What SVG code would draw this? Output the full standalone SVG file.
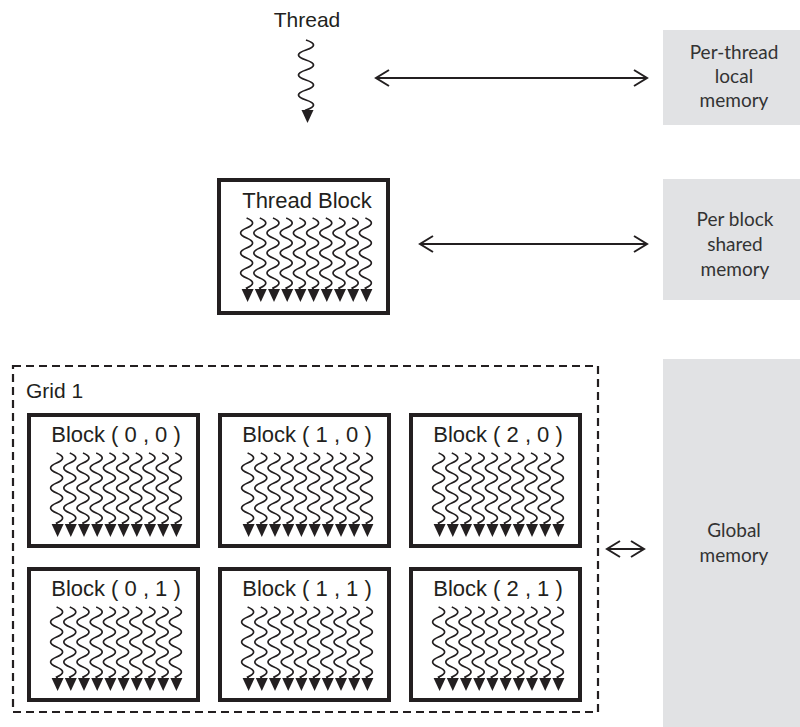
<svg xmlns="http://www.w3.org/2000/svg" xmlns:xlink="http://www.w3.org/1999/xlink" width="800" height="727" viewBox="0 0 800 727">
<style>
.lbl{font-family:"Liberation Sans",Arial,sans-serif;font-size:22px;fill:#231f20;text-anchor:middle}
.mem{font-family:Lato,"Open Sans",sans-serif;font-size:19px;fill:#333;text-anchor:middle}
.gray{fill:#e1e2e4}
.box{fill:#fff;stroke:#231f20;stroke-width:4}
.wave{fill:none;stroke:#231f20;stroke-width:1.7}
.head{fill:#231f20}
.conn{fill:none;stroke:#231f20;stroke-width:2}
</style>
<defs>
<marker id="chev" markerUnits="userSpaceOnUse" markerWidth="20" markerHeight="20" viewBox="-14 -10 16 20" refX="0" refY="0" orient="auto-start-reverse">
<path d="M-13,-8 L0,0 L-13,8" fill="none" stroke="#231f20" stroke-width="2"/>
</marker>
<g id="col">
<path class="wave" d="M-1,38 q12,5 0,10 t0,10 t0,10 t0,10 t0,10 t0,10 t0,10 l1,2"/>
<polygon class="head" points="-6,109 6,109 0,122"/>
</g>
<g id="threads">
<use xlink:href="#col" x="28.6"/>
<use xlink:href="#col" x="41.8"/>
<use xlink:href="#col" x="55"/>
<use xlink:href="#col" x="68.2"/>
<use xlink:href="#col" x="81.4"/>
<use xlink:href="#col" x="94.6"/>
<use xlink:href="#col" x="107.8"/>
<use xlink:href="#col" x="121"/>
<use xlink:href="#col" x="134.2"/>
<use xlink:href="#col" x="147.4"/>
</g>
</defs>

<g id="mem-local">
<rect class="gray" x="663" y="30" width="137" height="95"/>
<text class="mem" x="734" y="59">Per-thread</text>
<text class="mem" x="734" y="83">local</text>
<text class="mem" x="734" y="107">memory</text>
</g>
<g id="mem-shared">
<rect class="gray" x="663" y="179" width="137" height="121"/>
<text class="mem" x="735" y="226">Per block</text>
<text class="mem" x="735" y="251">shared</text>
<text class="mem" x="735" y="276">memory</text>
</g>
<g id="mem-global">
<rect class="gray" x="663" y="359" width="137" height="368"/>
<text class="mem" x="734" y="537">Global</text>
<text class="mem" x="734" y="562">memory</text>
</g>

<g id="thread">
<text class="lbl" x="307" y="27" style="font-size:21px">Thread</text>
<path class="wave" d="M306,40 q15,5 0,10 t0,10 t0,10 t0,10 t0,10 t0,10 t0,10 l1,2" style="stroke-width:1.8"/>
<polygon class="head" points="301.5,110 313.5,110 307.5,123"/>
</g>

<g id="thread-block">
<rect class="box" x="219" y="180" width="169" height="133"/>
<text class="lbl" x="307" y="208">Thread Block</text>
<use xlink:href="#threads" x="219" y="180"/>
</g>

<g id="grid">
<rect x="13" y="366" width="585" height="346" fill="none" stroke="#231f20" stroke-width="2.2" stroke-dasharray="8,5"/>
<text class="lbl" x="26" y="398" style="text-anchor:start;font-size:21px">Grid 1</text>
</g>

<g id="block-0-0">
<rect class="box" x="29" y="415" width="169" height="131"/>
<text class="lbl" x="116" y="442">Block ( 0 , 0 )</text>
<use xlink:href="#threads" x="29" y="415"/>
</g>
<g id="block-1-0">
<rect class="box" x="220" y="415" width="169" height="131"/>
<text class="lbl" x="307" y="442">Block ( 1 , 0 )</text>
<use xlink:href="#threads" x="220" y="415"/>
</g>
<g id="block-2-0">
<rect class="box" x="411" y="415" width="169" height="131"/>
<text class="lbl" x="498" y="442">Block ( 2 , 0 )</text>
<use xlink:href="#threads" x="411" y="415"/>
</g>
<g id="block-0-1">
<rect class="box" x="29" y="569" width="169" height="131"/>
<text class="lbl" x="116" y="596">Block ( 0 , 1 )</text>
<use xlink:href="#threads" x="29" y="569"/>
</g>
<g id="block-1-1">
<rect class="box" x="220" y="569" width="169" height="131"/>
<text class="lbl" x="307" y="596">Block ( 1 , 1 )</text>
<use xlink:href="#threads" x="220" y="569"/>
</g>
<g id="block-2-1">
<rect class="box" x="411" y="569" width="169" height="131"/>
<text class="lbl" x="498" y="596">Block ( 2 , 1 )</text>
<use xlink:href="#threads" x="411" y="569"/>
</g>

<g id="connectors">
<line class="conn" x1="376" y1="78" x2="647" y2="78" marker-start="url(#chev)" marker-end="url(#chev)"/>
<line class="conn" x1="420" y1="244" x2="647" y2="244" marker-start="url(#chev)" marker-end="url(#chev)"/>
<line class="conn" x1="607" y1="549" x2="644" y2="549" marker-start="url(#chev)" marker-end="url(#chev)"/>
</g>
</svg>
